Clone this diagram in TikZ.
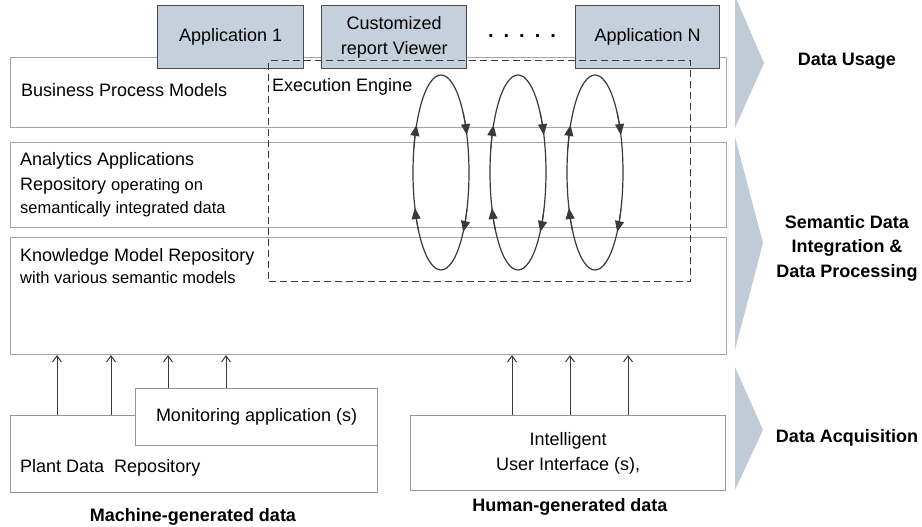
\documentclass[tikz,border=0pt]{standalone}
\usepackage{fontspec}
\setmainfont{Liberation Sans}
\usetikzlibrary{arrows.meta,calc}
\definecolor{appfill}{HTML}{C4D1DC}
\definecolor{appline}{HTML}{4A4A4A}
\definecolor{chev}{HTML}{BFCCD8}
\definecolor{bandline}{HTML}{A6A6A6}
\definecolor{dk}{HTML}{3A3A3A}
\newcommand{\mainsz}{\fontsize{18}{25}\selectfont}
\newcommand{\smallsz}{\fontsize{16.5}{22}\selectfont}
\newcommand{\lblsz}{\fontsize{18}{24.5}\selectfont\bfseries}
\begin{document}
\begin{tikzpicture}[x=1pt,y=1pt,
  band/.style={draw=bandline, line width=1.1pt, fill=white, rectangle, inner sep=0pt, anchor=north west, minimum width=716pt},
  appbox/.style={draw=appline, line width=1.4pt, fill=appfill, inner sep=0pt, anchor=north west, align=center, font=\mainsz, minimum height=63pt},
  wbox/.style={draw=bandline!90!black, line width=1.1pt, fill=white, inner sep=0pt, anchor=north west, align=center, font=\mainsz},
  lbl/.style={font=\mainsz, inner sep=0pt, anchor=base west},
  sidelbl/.style={font=\lblsz, inner sep=0pt, align=center},
  loopline/.style={draw=dk, line width=1.2pt},
  looptip/.style={draw=dk, fill=black, line width=1pt, -{Triangle[length=11pt,width=9pt]}},
  uparr/.style={draw=dk, line width=1pt, -{Straight Barb[length=6pt,width=9pt]}},
  chevshape/.style={fill=chev}
]
\useasboundingbox (0,0) rectangle (922,-527);

% side chevrons
\fill[chevshape] (735,4) -- (764,-63) -- (735,-128) -- cycle;
\fill[chevshape] (735,-137) -- (763,-243) -- (735,-350) -- cycle;
\fill[chevshape] (735,-367) -- (763,-430) -- (735,-490) -- cycle;

% bands
\node[band, minimum height=70pt] (bpm) at (10,-57) {};
\node[band, minimum height=85pt] (aar) at (10,-142) {};
\node[band, minimum height=117pt] (kmr) at (10,-237) {};

% application boxes
\node[appbox, minimum width=146pt] (app1) at (157,-5) {Application 1};
\node[appbox, minimum width=145pt] (crv) at (321,-5) {Customized\\report Viewer};
\node[appbox, minimum width=144pt] (appn) at (575,-5) {Application N};
\node[inner sep=0pt, anchor=base, font=\fontsize{20}{20}\selectfont\bfseries] (dots) at (522,-38) {.\hspace{10pt}.\hspace{10pt}.\hspace{10pt}.\hspace{10pt}.};

% execution engine
\node[draw=dk, line width=1.2pt, dash pattern=on 7pt off 4pt, inner sep=0pt, anchor=north west,
      minimum width=422pt, minimum height=221pt] (ee) at (268,-60) {};
\node[lbl] (tee) at (272,-92) {Execution Engine};

% band texts
\node[lbl] (tbpm) at (21,-96) {Business Process Models};
\node[lbl] (ta1) at (20,-165) {Analytics Applications};
\node[lbl] (ta2) at (20,-190) {Repository {\smallsz operating on}};
\node[lbl, font=\smallsz] (ta3) at (20,-213) {semantically integrated data};
\node[lbl] (tk1) at (20,-261) {Knowledge Model Repository};
\node[lbl, font=\smallsz] (tk2) at (20,-283) {with various semantic models};

% loops
\foreach \i/\cx in {1/441,2/518,3/595} {
  \coordinate (c\i) at (\cx,-172.5);
  \draw[loopline] (c\i) ellipse [x radius=28, y radius=97.5];
  \draw[looptip] (c\i) ++(166:28pt and 97.5pt) arc[start angle=166, end angle=150.8, x radius=28pt, y radius=97.5pt];
  \draw[looptip] (c\i) ++(216:28pt and 97.5pt) arc[start angle=216, end angle=201.4, x radius=28pt, y radius=97.5pt];
  \draw[looptip] (c\i) ++(38:28pt and 97.5pt) arc[start angle=38, end angle=22.6, x radius=28pt, y radius=97.5pt];
  \draw[looptip] (c\i) ++(-22:28pt and 97.5pt) arc[start angle=-22, end angle=-37.6, x radius=28pt, y radius=97.5pt];
}

% bottom boxes
\node[wbox, minimum width=367pt, minimum height=77pt] (plant) at (10,-415) {};
\node[wbox, minimum width=242pt, minimum height=57pt] (mon) at (135,-388) {Monitoring application (s)};
\node[lbl] (tplant) at (20,-472) {Plant Data\ \ Repository};
\node[wbox, minimum width=315pt, minimum height=75pt] (ui) at (410,-415) {Intelligent\\User Interface (s),};

% up arrows
\coordinate (m1) at ($(plant.north west)+(47,0)$);
\coordinate (m2) at ($(plant.north west)+(101,0)$);
\coordinate (m3) at ($(mon.north west)+(33,0)$);
\coordinate (m4) at ($(mon.north west)+(91,0)$);
\coordinate (h1) at ($(ui.north west)+(102,0)$);
\coordinate (h2) at ($(ui.north west)+(160,0)$);
\coordinate (h3) at ($(ui.north west)+(218,0)$);
\foreach \p in {m1,m2,m3,m4,h1,h2,h3} {
  \draw[uparr] (\p) -- (\p |- kmr.south);
}

% side labels
\node[sidelbl, anchor=base] (lusage) at (847,-66) {Data Usage};
\node[sidelbl] (lsem) at (847,-248) {Semantic Data\\Integration \&\\Data Processing};
\node[sidelbl, anchor=base] (lacq) at (847,-442) {Data Acquisition};
\node[sidelbl, anchor=base] (lmach) at (193,-521) {Machine-generated data};
\node[sidelbl, anchor=base] (lhum) at (570,-511) {Human-generated data};
\end{tikzpicture}
\end{document}
